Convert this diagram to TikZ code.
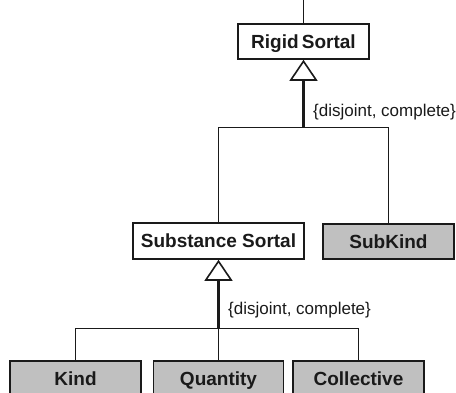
\documentclass[tikz,border=0pt]{standalone}
\usepackage{fontspec}
\setmainfont{Liberation Sans}
\usetikzlibrary{arrows.meta}
\definecolor{boxgray}{HTML}{C0C0C0}
\definecolor{ink}{HTML}{1A1A1A}
\begin{document}
\begin{tikzpicture}[x=1pt,y=-1pt,
  classbox/.style={draw=ink, line width=1.6pt, minimum width=131pt, minimum height=35pt,
    inner sep=0pt, text height=13.7pt, text depth=0pt,
    font=\fontsize{19}{22}\selectfont\bfseries, text=ink},
  concrete/.style={classbox, fill=boxgray},
  abstractbox/.style={classbox, fill=white},
  link/.style={draw=ink, line width=1.8pt},
  genstem/.style={draw=ink, line width=2.8pt,
    -{Triangle[open, length=21pt, width=28pt, line width=1.6pt, fill=white]}},
  constraint/.style={anchor=west, font=\fontsize{17}{20}\selectfont, text=ink, inner sep=0pt}]
  \clip (0,0) rectangle (456,392);
  \fill[white] (0,0) rectangle (456,392);

  % classes
  \node[abstractbox] (rigid) at (303.5,41.5) {Rigid\,Sortal};
  \node[abstractbox, minimum width=171pt, minimum height=36pt] (substance) at (218.5,241) {Substance Sortal};
  \node[concrete] (subkind) at (388.5,241.5) {SubKind};
  \node[concrete, minimum width=131pt] (kind) at (75.5,378.5) {Kind};
  \node[concrete, minimum width=130pt] (quantity) at (218.5,378.5) {Quantity};
  \node[concrete, minimum width=131pt] (collective) at (358.5,378.5) {Collective};

  % generalization junctions
  \coordinate (j1) at (303.5,127.5);
  \coordinate (j2) at (218.5,328.5);
  \coordinate (top) at (303.5,0);

  % connectors
  \draw[link] (top) -- (rigid.north);
  \draw[link] (substance.north) |- (j1) -| (subkind.north);
  \draw[genstem] (j1) -- (rigid.south);
  \draw[link] (kind.north) |- (j2) -| (collective.north);
  \draw[link] (quantity.north) -- (j2);
  \draw[genstem] (j2) -- (substance.south);

  % constraints
  \node[constraint] (c1) at (313,112) {\{disjoint, complete\}};
  \node[constraint] (c2) at (228,310) {\{disjoint, complete\}};
\end{tikzpicture}
\end{document}
